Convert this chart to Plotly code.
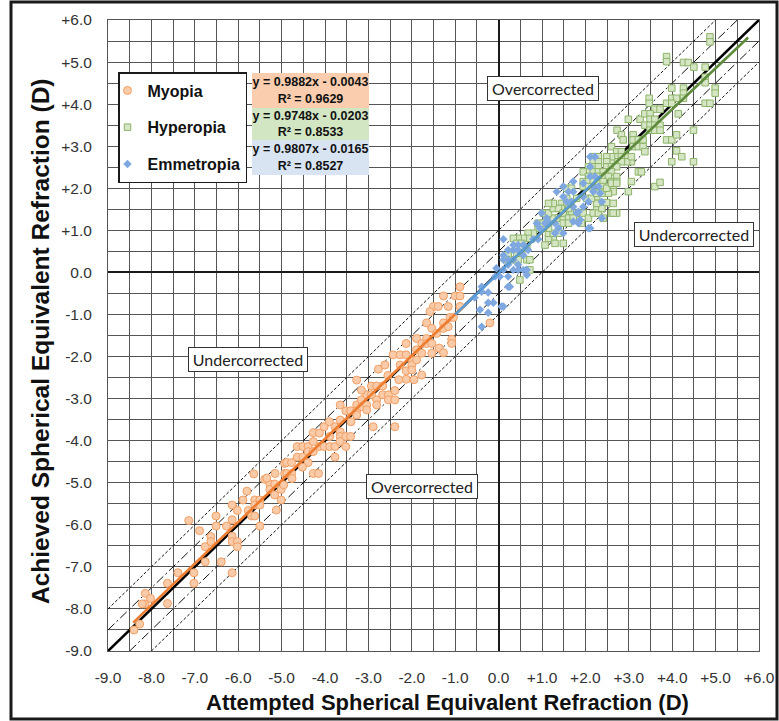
import plotly.graph_objects as go

# ---------------- data ----------------
myopia_pts = [
    (-8.40, -8.50), (-8.27, -8.36), (-8.15, -7.88), (-8.21, -7.88), (-8.14, -7.63), (-8.02, -7.75),
    (-7.63, -7.87), (-7.63, -7.39), (-7.39, -7.14), (-7.02, -7.14), (-7.02, -7.39), (-7.14, -5.90),
    (-6.89, -6.14), (-6.76, -6.88), (-6.76, -6.52), (-6.63, -6.28), (-6.63, -6.40), (-6.51, -5.79),
    (-6.51, -6.03), (-6.39, -6.88), (-6.27, -6.03), (-6.14, -5.88), (-6.14, -5.53), (-6.14, -6.27),
    (-6.14, -6.40), (-6.02, -5.66), (-6.02, -6.40), (-6.02, -6.52), (-6.14, -7.14), (-5.89, -5.41),
    (-5.77, -5.66), (-5.69, -5.79), (-5.64, -4.79), (-5.62, -5.41), (-5.62, -5.53), (-5.62, -5.79),
    (-5.50, -5.41), (-5.50, -5.53), (-5.50, -6.03), (-5.39, -4.92), (-5.27, -5.03), (-5.27, -5.16),
    (-5.16, -5.03), (-5.16, -5.29), (-5.12, -5.65), (-5.01, -5.16), (-5.01, -5.41), (-4.93, -4.54),
    (-4.93, -4.78), (-5.34, -4.89), (-5.15, -4.78), (-4.88, -4.52), (-4.77, -4.52), (-4.88, -4.78),
    (-4.77, -4.78), (-4.64, -4.14), (-4.51, -4.14), (-4.64, -4.39), (-4.51, -4.39), (-4.39, -4.14),
    (-4.39, -4.26), (-4.39, -4.52), (-4.27, -3.81), (-4.27, -4.02), (-4.27, -4.26), (-4.13, -3.82),
    (-4.13, -4.14), (-4.02, -3.67), (-4.02, -4.14), (-4.27, -4.78), (-4.15, -4.78), (-3.89, -3.90),
    (-3.89, -4.14), (-3.77, -4.14), (-3.77, -4.39), (-3.65, -3.79), (-3.65, -3.90), (-3.65, -4.02),
    (-3.52, -3.90), (-3.52, -4.14), (-3.41, -3.90), (-3.77, -3.67), (-3.65, -3.51), (-3.52, -3.29),
    (-3.41, -3.29), (-3.65, -3.15), (-3.27, -3.15), (-3.27, -3.29), (-3.27, -3.39), (-3.16, -3.03),
    (-3.16, -3.19), (-3.04, -2.91), (-3.04, -3.15), (-3.04, -3.27), (-3.27, -2.56), (-3.16, -2.80),
    (-2.93, -2.70), (-2.93, -2.91), (-2.81, -2.70), (-2.81, -3.03), (-2.81, -3.15), (-2.89, -3.67),
    (-2.67, -2.70), (-2.67, -2.91), (-2.54, -2.91), (-2.54, -3.03), (-2.39, -2.81), (-2.39, -3.03),
    (-2.39, -3.67), (-2.77, -2.30), (-2.62, -2.20), (-2.43, -1.96), (-2.27, -1.96), (-2.27, -2.20),
    (-2.13, -1.69), (-2.13, -1.96), (-2.13, -2.34), (-2.13, -2.54), (-2.00, -2.08), (-2.00, -2.20),
    (-2.00, -2.32), (-1.89, -1.57), (-1.89, -1.84), (-1.89, -2.08), (-1.77, -1.69), (-1.77, -1.92),
    (-1.77, -2.44), (-1.66, -1.20), (-1.66, -1.57), (-1.66, -1.69), (-1.54, -1.33), (-1.54, -1.69),
    (-1.54, -1.92), (-1.43, -1.45), (-1.37, -1.80), (-1.27, -1.91), (-1.27, -0.56), (-1.27, -1.20),
    (-1.27, -1.33), (-1.16, -0.81), (-1.16, -1.29), (-1.08, -1.59), (-1.08, -1.69), (-1.12, -1.07),
    (-1.04, -1.07), (-1.00, -0.56), (-0.89, -0.81), (-0.89, -0.56), (-0.89, -0.34), (-0.20, -1.20),
    (-1.50, -0.81), (-1.39, -0.81), (-1.58, -0.93), (-4.52, -4.63), (-4.76, -4.90), (-3.40, -3.55),
    (-2.55, -2.45), (-1.95, -2.55), (-3.90, -3.55), (-4.95, -5.05), (-5.80, -5.20), (-2.30, -2.55),
]

hyperopia_pts = [
    (4.87, 5.60), (4.87, 5.48), (3.87, 5.13), (3.87, 5.01), (4.26, 4.99), (4.37, 4.99), (4.50, 4.88),
    (4.76, 4.88), (4.76, 4.64), (4.76, 4.51), (4.99, 4.38), (4.99, 4.26), (4.76, 4.02), (4.87, 4.02),
    (4.26, 4.38), (4.26, 4.26), (4.26, 4.14), (3.99, 4.38), (3.99, 4.14), (4.10, 4.14), (3.87, 4.02),
    (3.99, 4.02), (4.14, 3.77), (3.47, 4.14), (3.47, 4.02), (3.60, 3.88), (3.72, 3.88), (2.99, 3.64),
    (3.26, 3.64), (3.37, 3.77), (3.49, 3.77), (3.49, 3.64), (3.60, 3.64), (3.37, 3.50), (3.49, 3.50),
    (3.60, 3.50), (3.49, 3.38), (3.60, 3.38), (3.72, 3.50), (3.72, 3.38), (2.73, 3.38), (2.83, 3.27),
    (2.87, 3.15), (3.10, 3.27), (3.10, 3.15), (3.22, 3.15), (3.33, 3.15), (3.10, 2.99), (3.22, 2.99),
    (3.33, 2.99), (3.37, 2.87), (3.87, 3.15), (3.99, 3.15), (4.10, 3.27), (4.10, 2.89), (4.22, 2.75),
    (4.49, 3.38), (3.99, 2.63), (4.49, 2.63), (3.60, 2.04), (3.72, 2.14), (2.60, 2.99), (2.72, 2.87),
    (2.83, 2.87), (2.95, 2.75), (3.06, 2.63), (2.95, 2.63), (3.06, 2.75), (2.72, 2.75), (2.83, 2.75),
    (2.72, 2.63), (2.83, 2.63), (2.60, 2.63), (2.60, 2.75), (2.49, 2.75), (2.49, 2.63), (2.49, 2.51),
    (2.60, 2.51), (2.72, 2.51), (2.49, 2.39), (2.60, 2.39), (2.18, 2.75), (2.30, 2.75), (2.18, 2.63),
    (2.30, 2.63), (2.18, 2.51), (2.30, 2.51), (2.07, 2.51), (2.07, 2.39), (2.18, 2.39), (2.30, 2.39),
    (2.41, 2.39), (1.95, 2.39), (2.07, 2.28), (2.18, 2.28), (2.30, 2.28), (2.41, 2.28), (2.53, 2.28),
    (2.72, 2.28), (1.95, 2.16), (2.07, 2.16), (2.18, 2.16), (2.30, 2.16), (2.41, 2.16), (2.60, 2.16),
    (2.72, 2.16), (1.95, 2.04), (2.07, 2.04), (2.41, 2.04), (2.53, 2.04), (2.64, 2.04), (2.41, 1.92),
    (2.53, 1.92), (2.64, 1.92), (2.99, 1.92), (3.06, 2.16), (3.22, 2.39), (3.29, 2.39), (1.57, 2.00),
    (1.68, 2.00), (1.57, 1.76), (1.80, 1.76), (1.45, 1.64), (1.57, 1.64), (1.45, 1.52), (1.57, 1.41),
    (1.68, 1.41), (1.80, 1.41), (1.80, 1.25), (1.91, 1.17), (2.26, 1.88), (2.26, 1.76), (2.26, 1.64),
    (2.38, 1.64), (2.26, 1.52), (2.49, 1.66), (2.60, 1.41), (2.72, 1.41), (1.49, 0.69), (1.26, 0.81),
    (1.15, 0.81), (1.15, 0.93), (1.26, 0.93), (1.15, 1.05), (1.03, 1.05), (0.91, 1.05), (0.80, 0.93),
    (0.68, 0.93), (0.68, 0.81), (0.57, 0.81), (0.45, 0.81), (0.34, 0.81), (0.42, 0.69), (0.53, 0.69),
    (0.42, 0.57), (0.53, 0.57), (0.65, 0.57), (0.42, 0.41), (0.53, 0.41), (0.65, 0.30), (0.72, 0.30),
    (0.72, 0.06), (0.34, 0.30), (0.45, 0.30), (0.22, 0.41), (0.19, 0.30), (0.49, -0.18), (0.91, 1.17),
    (1.03, 1.17), (1.15, 1.29), (1.26, 1.29), (1.03, 1.41), (1.15, 1.41), (1.26, 1.52), (1.38, 1.52),
    (1.26, 1.64), (1.15, 1.64), (1.38, 1.29), (1.49, 1.29), (1.49, 1.41), (1.61, 1.52), (1.61, 1.29),
    (1.72, 1.29), (1.49, 1.17), (1.61, 1.17), (1.38, 0.93), (1.95, 1.41), (2.07, 1.29), (2.18, 1.41),
    (2.30, 1.41), (2.41, 1.29), (2.38, 1.52), (2.26, 1.64), (2.64, 1.64), (2.64, 1.41), (2.53, 1.88),
    (2.03, 1.76), (2.14, 1.76), (2.26, 1.88), (2.38, 1.88), (2.49, 2.00), (2.60, 2.12), (2.72, 2.12),
    (1.30, 0.69), (1.07, 0.65),
]

emmetropia_pts = [
    (-0.24, -0.48), (-0.24, -0.72), (-0.12, -0.72), (-0.24, -0.96), (-0.39, -0.34), (-0.39, -0.46),
    (0.11, -0.81), (0.22, -0.34), (0.22, -0.10), (0.03, -0.10), (-0.08, -0.10), (0.11, 0.06),
    (0.22, 0.18), (0.34, 0.06), (0.45, 0.06), (0.57, 0.06), (0.45, 0.18), (0.65, 0.06), (0.65, -0.06),
    (0.11, 0.30), (0.22, 0.30), (0.34, 0.30), (0.11, 0.41), (0.22, 0.53), (0.34, 0.53), (0.45, 0.53),
    (0.57, 0.41), (0.11, 0.79), (0.34, 0.65), (0.45, 0.65), (0.57, 0.65), (0.68, 0.53), (0.80, 0.79),
    (0.91, 0.79), (0.88, 1.17), (0.95, 1.05), (1.07, 1.17), (0.99, 1.41), (1.11, 1.29), (1.18, 1.17),
    (1.30, 1.17), (1.30, 0.93), (1.38, 1.05), (1.49, 0.93), (1.34, 1.92), (1.49, 1.80), (1.57, 1.68),
    (1.68, 1.68), (1.49, 2.04), (1.61, 1.92), (1.72, 1.92), (1.72, 1.56), (1.84, 1.44), (1.95, 1.56),
    (1.84, 1.17), (2.07, 1.05), (1.95, 1.80), (2.07, 1.68), (2.18, 1.92), (2.18, 2.04), (2.30, 2.04),
    (1.72, 2.16), (1.95, 2.12), (-0.43, -0.89), (-0.39, -1.29), (0.07, -0.81), (0.26, -0.34),
    (2.11, 2.75), (2.22, 2.75), (2.11, 2.28), (2.22, 2.28), (2.11, 2.51), (2.34, 1.88), (2.38, 1.68),
    (2.38, 1.29), (2.11, 1.05), (1.80, 1.41), (1.88, 1.25), (1.72, 1.21), (-0.55, -0.60), (-0.05, 0.10),
]

myopia_x = [p[0] for p in myopia_pts]
myopia_y = [p[1] for p in myopia_pts]
hyperopia_x = [p[0] for p in hyperopia_pts]
hyperopia_y = [p[1] for p in hyperopia_pts]
emmetropia_x = [p[0] for p in emmetropia_pts]
emmetropia_y = [p[1] for p in emmetropia_pts]

# trendlines (equations shown on the chart) and their x spans
fits = {
    "Myopia": dict(slope=0.9882, icpt=-0.0043, r2=0.9629, xr=(-8.42, -0.9), color="#ED7D31",
                   box="#F9CDAE"),
    "Hyperopia": dict(slope=0.9748, icpt=-0.0203, r2=0.8533, xr=(0.25, 5.75), color="#5E8B3C",
                      box="#D3E6C3"),
    "Emmetropia": dict(slope=0.9807, icpt=-0.0165, r2=0.8527, xr=(-1.0, 2.35), color="#5B9BD5",
                       box="#D9E4F2"),
}

tick_vals = [-9, -8, -7, -6, -5, -4, -3, -2, -1, 0, 1, 2, 3, 4, 5, 6]
tick_text = ["-9.0", "-8.0", "-7.0", "-6.0", "-5.0", "-4.0", "-3.0", "-2.0", "-1.0", "0.0",
             "+1.0", "+2.0", "+3.0", "+4.0", "+5.0", "+6.0"]
AX_MIN, AX_MAX = -9, 6

# ---------------- figure ----------------
W, H = 779, 721
L, R, T, B = 108, 20, 20, 70
PW, PH = W - L - R, H - T - B


def px(xp):
    return (xp - L) / PW


def py(yp):
    return (H - B - yp) / PH


fig = go.Figure()

# tolerance lines (+-0.5 dash-dot, +-1.0 short dash)
for off, dash in [(1.0, "3px,2px"), (-1.0, "3px,2px"), (0.5, "9px,3px,2px,3px"), (-0.5, "9px,3px,2px,3px")]:
    x0 = max(AX_MIN, AX_MIN - off)
    x1 = min(AX_MAX, AX_MAX - off)
    fig.add_trace(go.Scatter(x=[x0, x1], y=[x0 + off, x1 + off], mode="lines",
                             line=dict(color="#111111", width=1, dash=dash),
                             showlegend=False, hoverinfo="skip"))
# identity line
fig.add_trace(go.Scatter(x=[AX_MIN, AX_MAX], y=[AX_MIN, AX_MAX], mode="lines",
                         line=dict(color="black", width=2.6), showlegend=False, hoverinfo="skip"))

fig.add_trace(go.Scatter(x=myopia_x, y=myopia_y, mode="markers", name="Myopia", legendgroup="m",
                         marker=dict(symbol="circle", size=8, color="#F9CBA8",
                                     line=dict(color="#F2A066", width=1))))
fig.add_trace(go.Scatter(x=hyperopia_x, y=hyperopia_y, mode="markers", name="Hyperopia", legendgroup="h",
                         marker=dict(symbol="square", size=6.5, color="#D6E6C4",
                                     line=dict(color="#8DB46A", width=1))))
fig.add_trace(go.Scatter(x=emmetropia_x, y=emmetropia_y, mode="markers", name="Emmetropia", legendgroup="e",
                         marker=dict(symbol="diamond", size=6.5, color="#7FA8E0",
                                     line=dict(color="#7FA8E0", width=0))))

for name in ["Myopia", "Hyperopia", "Emmetropia"]:
    f = fits[name]
    xs = list(f["xr"])
    ys = [f["slope"] * v + f["icpt"] for v in xs]
    fig.add_trace(go.Scatter(x=xs, y=ys, mode="lines", line=dict(color=f["color"], width=2.6),
                             showlegend=False, hoverinfo="skip"))

axis_common = dict(
    range=[AX_MIN, AX_MAX], tickmode="array", tickvals=tick_vals, ticktext=tick_text,
    showgrid=True, gridcolor="#555555", gridwidth=1,
    minor=dict(dtick=0.5, tick0=0, showgrid=True, gridcolor="#555555", gridwidth=1),
    zeroline=True, zerolinecolor="#1A1A1A", zerolinewidth=1.6,
    showline=True, linecolor="#555555", linewidth=1, mirror=True,
    ticks="", tickfont=dict(family="Liberation Sans, Arial", size=15.5, color="#333333"),
    ticklabelstandoff=12, automargin=False,
)
fig.update_xaxes(**axis_common)
fig.update_yaxes(**axis_common)

annotations = []
# equation boxes
eq_boxes = [("Myopia", 90.5, 35), ("Hyperopia", 124.0, 32), ("Emmetropia", 157.5, 35)]
for name, cy, hh in eq_boxes:
    f = fits[name]
    txt = "y = %.4fx - %.4f<br>R² = %.4f" % (f["slope"], abs(f["icpt"]), f["r2"])
    annotations.append(dict(xref="paper", yref="paper", x=px(310), y=py(cy), text=txt,
                            xanchor="center", yanchor="middle",
                            showarrow=False, align="center", bgcolor=f["box"], width=117, height=hh,
                            borderpad=0, borderwidth=0,
                            font=dict(family="Liberation Sans, Arial", size=12.5, color="#111111",
                                      weight="bold")))
# region labels
regions = [("Overcorrected", 1.02, 4.38), ("Undercorrected", 4.50, 0.91),
           ("Undercorrected", -5.77, -2.06), ("Overcorrected", -1.77, -5.08)]
for txt, xx, yy in regions:
    annotations.append(dict(x=xx, y=yy, xref="x", yref="y", text=txt, showarrow=False,
                            xanchor="center", yanchor="middle",
                            bgcolor="white", bordercolor="#333333", borderwidth=1, borderpad=3,
                            width=104 if txt.startswith("O") else 112, height=17,
                            font=dict(family="Lato, Carlito, sans-serif", size=16, color="#222222")))
# axis titles
annotations.append(dict(xref="paper", yref="paper", x=px(447), y=py(702), text="Attempted Spherical Equivalent Refraction (D)",
                        showarrow=False, xanchor="center", yanchor="middle",
                        font=dict(family="Liberation Sans, Arial", size=22, color="#111111", weight="bold")))
annotations.append(dict(xref="paper", yref="paper", x=px(40), y=py(341), text="Achieved Spherical Equivalent Refraction (D)",
                        showarrow=False, textangle=-90, xanchor="center", yanchor="middle",
                        font=dict(family="Liberation Sans, Arial", size=24.5, color="#111111", weight="bold")))

fig.update_layout(
    width=W, height=H, margin=dict(l=L, r=R, t=T, b=B, autoexpand=False),
    paper_bgcolor="white", plot_bgcolor="white",
    annotations=annotations,
    shapes=[dict(type="rect", xref="paper", yref="paper", x0=px(11), x1=px(777), y0=py(719), y1=py(2),
                 line=dict(color="#1A1A1A", width=3), layer="above")],
    legend=dict(x=px(118), y=py(72), xanchor="left", yanchor="top", bgcolor="white",
                bordercolor="#1A1A1A", borderwidth=1.5, tracegroupgap=13, indentation=-12,
                font=dict(family="Liberation Sans, Arial", size=16, color="#111111", weight="bold")),
    showlegend=True,
)

fig.write_html("out.html", config={"displayModeBar": False},
               post_script="document.body.style.margin='0';document.body.style.overflow='hidden';")
